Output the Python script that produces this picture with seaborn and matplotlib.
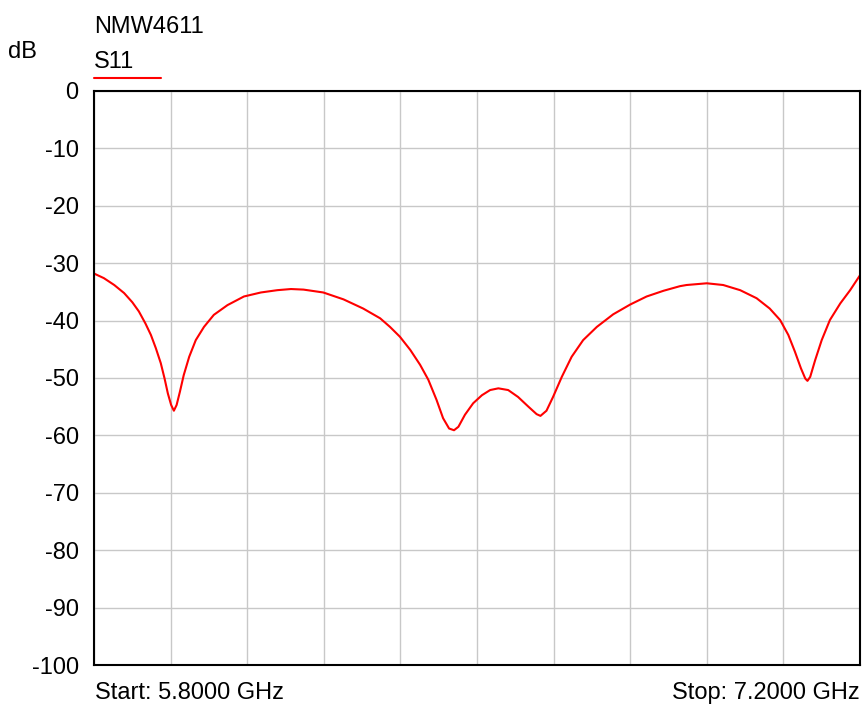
import numpy as np
import pandas as pd
import matplotlib.pyplot as plt
import seaborn as sns

# S11 sweep (GHz, dB)
freq_ghz = [
    5.800, 5.818, 5.837, 5.855, 5.870, 5.882, 5.894, 5.904, 5.913, 5.922,
    5.929, 5.935, 5.941, 5.946, 5.951, 5.957, 5.964, 5.974, 5.986, 6.001,
    6.019, 6.044, 6.074, 6.105, 6.135, 6.160, 6.183, 6.219, 6.256, 6.292,
    6.323, 6.341, 6.359, 6.378, 6.396, 6.411, 6.426, 6.438, 6.449, 6.458,
    6.466, 6.478, 6.493, 6.509, 6.524, 6.539, 6.557, 6.575, 6.594, 6.609,
    6.616, 6.627, 6.639, 6.655, 6.673, 6.694, 6.719, 6.749, 6.780, 6.810,
    6.841, 6.871, 6.883, 6.920, 6.950, 6.981, 7.011, 7.035, 7.054, 7.069,
    7.081, 7.092, 7.100, 7.104, 7.109, 7.118, 7.130, 7.145, 7.164, 7.182,
    7.200,
]
s11_db = [
    -31.8, -32.6, -33.8, -35.2, -36.8, -38.4, -40.5, -42.5, -44.8, -47.4,
    -50.1, -52.7, -54.7, -55.7, -54.7, -52.4, -49.5, -46.3, -43.4, -41.1,
    -39.0, -37.3, -35.8, -35.1, -34.7, -34.5, -34.6, -35.1, -36.3, -37.9,
    -39.6, -41.1, -42.8, -45.1, -47.7, -50.3, -53.8, -57.0, -58.8, -59.1,
    -58.5, -56.4, -54.4, -53.0, -52.1, -51.8, -52.1, -53.3, -55.0, -56.3,
    -56.6, -55.7, -53.3, -49.8, -46.3, -43.4, -41.1, -38.9, -37.2, -35.8,
    -34.8, -34.0, -33.8, -33.5, -33.8, -34.7, -36.1, -37.9, -39.9, -42.5,
    -45.4, -48.3, -50.1, -50.5, -49.8, -46.9, -43.4, -39.9, -37.0, -34.7,
    -32.1,
]
y_ticks = [0, -10, -20, -30, -40, -50, -60, -70, -80, -90, -100]
f_start, f_stop = 5.8, 7.2
n_div = 10

sns.set_style("white")
plt.rcParams["font.family"] = ["Liberation Sans", "DejaVu Sans"]
plt.rcParams["text.color"] = "black"
plt.rcParams["ytick.color"] = "black"

df = pd.DataFrame({"freq": freq_ghz, "s11": s11_db})

fig = plt.figure(figsize=(8.64, 7.07), dpi=100)
ax = fig.add_axes([94 / 864, 1 - 665 / 707, 766 / 864, 574 / 707])

sns.lineplot(data=df, x="freq", y="s11", color="#ff0000", linewidth=1.5, ax=ax, sort=False)

ax.set_xlim(f_start, f_stop)
ax.set_ylim(-100, 0)
ax.set_xticks(np.linspace(f_start, f_stop, n_div + 1))
ax.set_xticklabels([])
ax.set_yticks(y_ticks)
ax.set_yticklabels([str(t) for t in y_ticks], fontsize=17)
ax.tick_params(axis="both", length=0)
ax.tick_params(axis="y", pad=11)
ax.grid(True, color="#c8c8c8", linewidth=1.0)
ax.set_axisbelow(True)
ax.set_xlabel("")
ax.set_ylabel("")
for sp in ax.spines.values():
    sp.set_visible(True)
    sp.set_color("black")
    sp.set_linewidth(1.5)

fig.text(94 / 864, 1 - 27 / 707, "NMW4611", fontsize=17, ha="left", va="center")
fig.text(94 / 864, 1 - 62 / 707, "S11", fontsize=17, ha="left", va="center")
fig.add_artist(plt.Line2D([94 / 864, 161 / 864], [1 - 78 / 707, 1 - 78 / 707],
                          color="#ff0000", linewidth=1.5, transform=fig.transFigure))
fig.text(8 / 864, 1 - 52 / 707, "dB", fontsize=17, ha="left", va="center")
fig.text(95 / 864, 1 - 693 / 707, "Start: 5.8000 GHz", fontsize=17, ha="left", va="center")
fig.text(860 / 864, 1 - 693 / 707, "Stop: 7.2000 GHz", fontsize=17, ha="right", va="center")

fig.savefig("out.png", dpi=100)
